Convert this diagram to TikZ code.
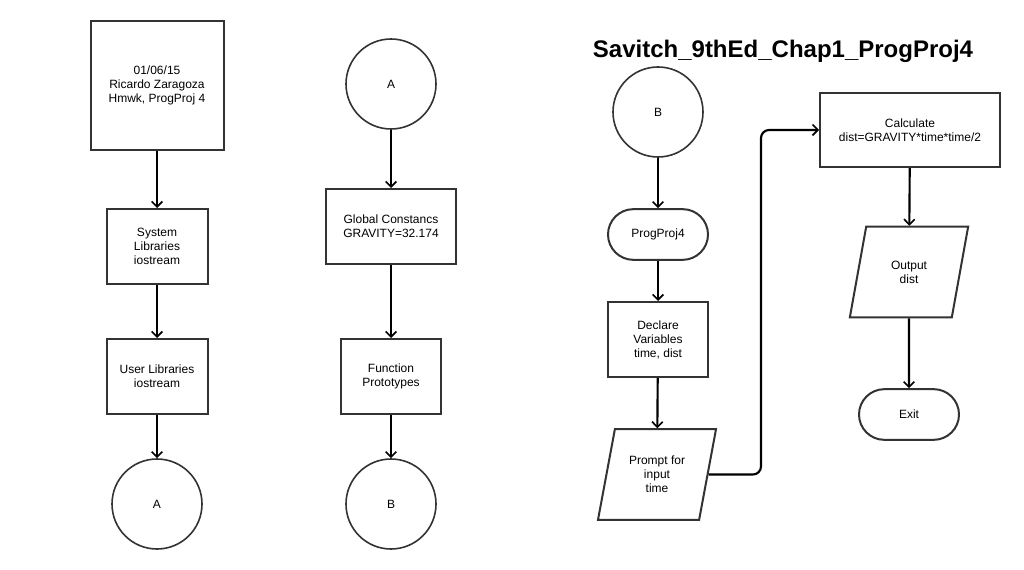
\documentclass[tikz,border=0pt]{standalone}
\usepackage{fontspec}
\setmainfont{Liberation Sans}
\usepackage{xcolor}
\usepackage{tikz}
\usetikzlibrary{shapes.geometric, arrows.meta, positioning}
\definecolor{ink}{HTML}{000000}
\definecolor{edge}{HTML}{333333}
\tikzset{
  box/.style   = {draw=edge, line width=1.5pt, rectangle, align=center,
                  inner sep=2pt, font=\fontsize{9}{10.5}\selectfont},
  term/.style  = {box, rounded corners=19pt, minimum width=75pt, minimum height=38pt},
  io/.style    = {box, trapezium, trapezium left angle=73, trapezium right angle=107,
                  trapezium stretches=true, inner sep=0pt,
                  minimum width=89pt, minimum height=68pt},
  link/.style  = {draw=edge, line width=1.2pt, circle, minimum size=67.5pt,
                  inner sep=0pt, font=\fontsize{9}{10.5}\selectfont},
  flow/.style  = {-{Straight Barb[length=4pt, width=8pt, line width=1.2pt]},
                  draw=ink, line width=1.6pt},
  title/.style = {font=\fontsize{18}{21}\selectfont\bfseries, text=ink},
}

\begin{document}
\begin{tikzpicture}[x=0.75pt, y=-0.75pt]
  \useasboundingbox (0,0) rectangle (1024,570);

  % first column
  \node[box, minimum width=99.75pt, minimum height=96.75pt] (head) at (157,85.5) {01/06/15\\Ricardo Zaragoza\\Hmwk, ProgProj 4};
  \node[box, minimum width=75.75pt, minimum height=56.25pt] (syslib) at (157,246.5) {System\\Libraries\\iostream};
  \node[box, minimum width=75.75pt, minimum height=56.25pt] (userlib) at (157,376.5) {User Libraries\\iostream};
  \node[link] (toA) at (157,504) {A};

  \draw[flow] (head) -- (syslib);
  \draw[flow] (syslib) -- (userlib);
  \draw[flow] (userlib) -- (toA);

  % second column
  \node[link] (fromA) at (391,84) {A};
  \node[box, minimum width=97.5pt, minimum height=56.25pt] (consts) at (391,226.5) {Global Constancs\\GRAVITY=32.174};
  \node[box, minimum width=75pt, minimum height=56.25pt] (protos) at (391,376.5) {Function\\Prototypes};
  \node[link] (toB) at (391,504) {B};

  \draw[flow] (fromA) -- (consts);
  \draw[flow] (consts) -- (protos);
  \draw[flow] (protos) -- (toB);

  % third column
  \node[title] (heading) at (783,51) {Savitch\_9thEd\_Chap1\_ProgProj4};
  \node[link] (fromB) at (658,112) {B};
  \node[term] (start) at (658,234.5) {ProgProj4};
  \node[box, minimum width=75pt, minimum height=56.25pt] (vars) at (658,339.5) {Declare\\Variables\\time, dist};
  \node[io] (prompt) at (657,474.5) {Prompt for\\input\\time};

  \draw[flow] (fromB) -- (start);
  \draw[flow] (start) -- (vars);
  \draw[flow] (vars) -- (prompt);

  % last column
  \node[box, minimum width=135pt, minimum height=55.5pt] (calc) at (910,130) {Calculate\\dist=GRAVITY*time*time/2};
  \node[io] (output) at (909,272) {Output\\dist};
  \node[term] (exit) at (909,414.5) {Exit};
  \coordinate (bend) at (761,130);

  \draw[flow, rounded corners=6pt] (prompt.east) -| (bend) -- (calc.west);
  \draw[flow] (calc) -- (output);
  \draw[flow] (output) -- (exit);
\end{tikzpicture}
\end{document}
